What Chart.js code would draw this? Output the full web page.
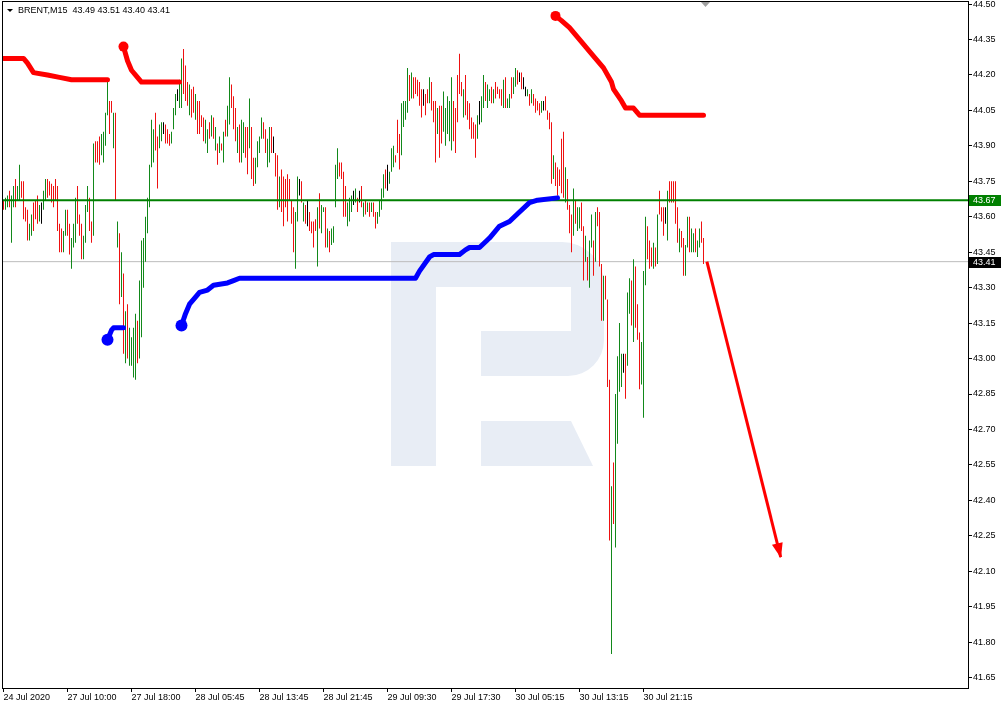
<!DOCTYPE html>
<html>
<head>
<meta charset="utf-8">
<style>
  html, body { margin: 0; padding: 0; background: #fff; }
  canvas { display: block; }
</style>
<script src="https://cdn.jsdelivr.net/npm/chart.js@4.4.1/dist/chart.umd.min.js"></script>
</head>
<body>
<canvas id="chart" width="1007" height="708"></canvas>
<script>
// BRENT M15, one entry per bar, oldest first
const symbol = 'BRENT,M15';
const lastQuote = [43.49, 43.51, 43.40, 43.41];

const highs = [
  43.67,43.68,43.69,43.71,43.69,43.73,43.76,43.73,43.82,43.75,
  43.75,43.64,43.63,43.57,43.61,43.66,43.67,43.69,43.65,43.66,
  43.71,43.76,43.76,43.75,43.74,43.73,43.76,43.73,43.57,43.55,
  43.54,43.63,43.63,43.57,43.51,43.57,43.68,43.73,43.61,43.57,
  43.52,43.65,43.73,43.68,43.58,43.91,43.92,43.92,43.94,43.95,
  43.96,44.04,44.17,44.09,44.09,44.04,44.04,43.58,43.53,43.45,
  43.36,43.20,43.23,43.13,43.09,43.13,43.19,43.16,43.33,43.50,
  43.51,43.60,43.68,43.82,44.01,43.97,44.04,43.94,43.99,44.00,
  44.00,43.99,43.97,43.95,43.96,44.06,44.12,44.14,44.18,44.27,
  44.31,44.24,44.17,44.16,44.14,44.15,44.12,44.09,44.09,44.03,
  44.02,44.01,43.97,44.00,44.03,44.02,43.98,43.91,43.94,43.91,
  43.96,44.01,44.07,44.19,44.16,44.11,44.06,43.98,43.99,44.01,
  44.00,43.98,43.98,44.10,43.98,43.85,43.85,43.92,43.94,44.02,
  44.00,43.97,43.93,43.98,43.98,43.94,43.87,43.86,43.77,43.80,
  43.77,43.76,43.78,43.76,43.67,43.64,43.62,43.77,43.76,43.75,
  43.66,43.65,43.67,43.62,43.58,43.58,43.59,43.64,43.70,43.65,
  43.64,43.64,43.55,43.54,43.55,43.56,43.82,43.89,43.83,43.83,
  43.79,43.73,43.66,43.68,43.69,43.71,43.72,43.68,43.71,43.73,
  43.66,43.67,43.66,43.66,43.66,43.66,43.62,43.62,43.67,43.72,
  43.78,43.80,43.82,43.79,43.89,43.90,43.86,44.01,43.95,44.08,
  44.09,44.09,44.23,44.20,44.21,44.19,44.19,44.18,44.17,44.14,
  44.14,44.12,44.14,44.19,44.17,44.09,44.09,44.06,44.07,44.07,
  44.13,44.06,44.11,44.09,44.19,44.09,44.06,44.20,44.29,44.17,
  44.14,44.20,44.09,44.08,44.02,44.00,43.99,44.03,44.09,44.11,
  44.20,44.17,44.16,44.14,44.15,44.14,44.17,44.15,44.14,44.14,
  44.18,44.19,44.10,44.12,44.19,44.19,44.23,44.22,44.21,44.21,
  44.19,44.15,44.14,44.12,44.14,44.12,44.10,44.09,44.08,44.09,
  44.09,44.11,44.05,44.04,44.00,43.86,43.83,43.81,43.80,43.93,
  43.96,43.81,43.76,43.65,43.61,43.72,43.67,43.64,43.64,43.66,
  43.56,43.52,43.43,43.50,43.61,43.50,43.62,43.64,43.62,43.40,
  43.35,43.35,43.25,42.91,42.46,42.56,42.85,43.01,43.15,43.02,
  43.02,43.02,43.28,43.34,43.33,43.42,43.39,43.23,43.11,43.07,
  43.37,43.60,43.56,43.50,43.47,43.49,43.47,43.61,43.71,43.64,
  43.64,43.64,43.71,43.75,43.75,43.75,43.75,43.64,43.55,43.54,
  43.51,43.48,43.60,43.60,43.55,43.53,43.55,43.50,43.55,43.58,43.51
];

const lows = [
  43.63,43.63,43.64,43.64,43.49,43.64,43.64,43.67,43.67,43.68,
  43.59,43.58,43.50,43.50,43.52,43.54,43.59,43.57,43.58,43.57,
  43.63,43.67,43.68,43.69,43.66,43.64,43.67,43.54,43.45,43.45,
  43.45,43.52,43.52,43.44,43.38,43.47,43.49,43.57,43.52,43.42,
  43.42,43.49,43.62,43.54,43.49,43.52,43.83,43.83,43.82,43.86,
  43.83,43.90,44.03,43.95,44.04,43.89,43.67,43.47,43.23,43.26,
  43.02,42.98,43.00,42.97,42.97,42.92,42.91,42.98,43.00,43.09,
  43.30,43.41,43.53,43.64,43.81,43.83,43.88,43.72,43.89,43.92,
  43.95,43.91,43.91,43.90,43.91,43.97,44.03,44.09,44.06,44.06,
  44.12,44.09,44.07,44.03,44.02,44.04,44.01,43.95,43.95,43.98,
  43.92,43.91,43.87,43.93,43.94,43.93,43.88,43.82,43.87,43.88,
  43.83,43.94,43.94,43.99,44.06,43.97,43.92,43.87,43.83,43.83,
  43.87,43.85,43.78,43.89,43.76,43.73,43.74,43.81,43.87,43.93,
  43.93,43.87,43.81,43.83,43.87,43.87,43.77,43.63,43.64,43.62,
  43.56,43.64,43.58,43.67,43.57,43.45,43.38,43.58,43.69,43.66,
  43.58,43.57,43.56,43.54,43.53,43.47,43.54,43.39,43.55,43.53,
  43.62,43.47,43.47,43.45,43.48,43.49,43.64,43.76,43.77,43.76,
  43.60,43.60,43.56,43.58,43.62,43.65,43.66,43.62,43.66,43.64,
  43.60,43.61,43.62,43.60,43.62,43.60,43.55,43.57,43.60,43.63,
  43.68,43.72,43.71,43.74,43.79,43.81,43.83,43.87,43.80,43.86,
  43.98,44.01,44.04,44.09,44.10,44.10,44.12,44.11,44.07,44.02,
  44.07,44.03,44.08,44.08,44.05,44.00,43.83,43.95,43.85,43.91,
  43.96,43.90,43.95,43.92,43.88,43.92,43.87,44.00,44.12,44.11,
  44.02,44.03,44.01,43.97,43.93,43.93,43.85,43.93,43.99,44.00,
  44.06,44.09,44.06,44.09,44.08,44.08,44.10,44.12,44.10,44.07,
  44.06,44.06,44.06,44.06,44.10,44.12,44.15,44.16,44.17,44.14,
  44.14,44.11,44.11,44.07,44.08,44.07,44.04,44.05,44.03,44.04,
  44.05,44.05,44.01,43.97,43.74,43.76,43.73,43.69,43.73,43.70,
  43.68,43.66,43.63,43.53,43.45,43.52,43.57,43.54,43.55,43.54,
  43.33,43.41,43.33,43.30,43.47,43.35,43.41,43.56,43.39,43.16,
  43.16,43.25,42.88,42.23,41.75,42.30,42.20,42.64,42.86,42.88,
  42.94,42.83,42.97,43.19,43.14,43.07,43.13,43.08,42.87,42.89,
  42.75,43.31,43.42,43.38,43.39,43.38,43.39,43.40,43.61,43.58,
  43.52,43.57,43.50,43.66,43.66,43.66,43.57,43.49,43.45,43.47,
  43.35,43.35,43.47,43.45,43.45,43.45,43.45,43.43,43.47,43.49,43.40
];

// g = closed up, r = closed down, k = unchanged
const barDirs = (
  'rggrggrggr rrrggrrrgk ggrrrrrrrr ggrrgggrrr gggrrgrrrg ' +
  'gggrrgrgrg rgrggggrgg ggggggrrgg krrrgggkgg rrrgrrgrrr ' +
  'rggrgrgrgr grggrrrgrg grrgrrgggg rrggrkrrgr rrrrrrggkr ' +
  'grkrrrrgrg grgrggggrr rrgggkgrkr grgrgrrggg grkgggrrrg ' +
  'gggrgrrrrr krrgrrrgrr gggggrrrrr grrrrrrgkg grggrgrrrr ' +
  'grggrggrkr kkgrgrrrrg krrrrgrrrr rgrrrgrggr rgrggrgrrr ' +
  'grrrgrgggg krggrgrrrg ggrrrgrgrr rkgrrrrrgr rggrggrggrr'
).replace(/ /g, '');

// indicator lines, [bar, price]
const upperStopA = [[0, 44.27], [10, 44.27], [12, 44.25], [15, 44.21], [22, 44.20], [28, 44.19], [34, 44.18], [52, 44.18]];
const upperStopB = [[60, 44.32], [62, 44.26], [64, 44.22], [67, 44.19], [69, 44.17], [88, 44.17]];
const upperStopC = [[276, 44.45], [279, 44.43], [283, 44.40], [287, 44.36], [291, 44.32], [295, 44.28], [300, 44.23],
  [304, 44.17], [305, 44.14], [309, 44.09], [311, 44.06], [315, 44.06], [318, 44.03], [350, 44.03]];
const lowerStopA = [[52, 43.08], [54, 43.12], [55, 43.13], [60, 43.13]];
const lowerStopB = [[89, 43.14], [91, 43.19], [93, 43.23], [96, 43.26], [98, 43.28], [102, 43.29], [105, 43.31],
  [112, 43.32], [115, 43.33], [118, 43.34], [206, 43.34], [208, 43.37], [213, 43.43], [215, 43.44], [228, 43.44],
  [231, 43.46], [233, 43.47], [238, 43.47], [243, 43.51], [248, 43.56], [253, 43.58], [258, 43.62], [263, 43.66],
  [267, 43.67], [277, 43.68]];

const levelPrice = 43.67;
const bidPrice = 43.41;
const arrowBars = [351.7, 388.6];
const arrowPrices = [43.41, 42.16];

const xTickBars = [0, 32, 64, 96, 128, 160, 192, 224, 256, 288, 320];
const xTickLabels = ['24 Jul 2020', '27 Jul 10:00', '27 Jul 18:00', '28 Jul 05:45', '28 Jul 13:45', '28 Jul 21:45',
  '29 Jul 09:30', '29 Jul 17:30', '30 Jul 05:15', '30 Jul 13:15', '30 Jul 21:15'];
const yTickValues = [44.50, 44.35, 44.20, 44.05, 43.90, 43.75, 43.60, 43.45, 43.30, 43.15, 43.00,
  42.85, 42.70, 42.55, 42.40, 42.25, 42.10, 41.95, 41.80, 41.65];

const UP = '#12881a', DOWN = '#ee1111', FLAT = '#000000';
const FAMILY = '"Liberation Sans", Arial, sans-serif';
// tiny line height keeps the tick labels from adding layout padding
const tickFont = { family: FAMILY, size: 9, lineHeight: 0.01 };
const pairs = seg => seg.map(([x, y]) => ({ x, y }));

const stopLine = (seg, color, dot, order) => ({
  type: 'line',
  data: pairs(seg),
  borderColor: color,
  backgroundColor: color,
  borderWidth: 5,
  borderCapStyle: 'round',
  borderJoinStyle: 'round',
  tension: 0,
  pointRadius: c => (c.dataIndex === 0 ? dot : 0),
  pointBorderWidth: 0,
  pointBackgroundColor: color,
  order
});

const hline = (v, color, width, order) => ({
  type: 'line',
  data: [{ x: -0.75, y: v }, { x: 482.25, y: v }],
  borderColor: color,
  borderWidth: width,
  pointRadius: 0,
  order
});

const datasets = [
  hline(bidPrice, '#bcbcbc', 1, 9),
  {
    type: 'bar',
    data: highs.map((h, i) => ({ x: i, y: [lows[i], h] })),
    backgroundColor: highs.map((h, i) => barDirs[i] === 'g' ? UP : barDirs[i] === 'r' ? DOWN : FLAT),
    barThickness: 1,
    inflateAmount: 0,
    borderWidth: 0,
    grouped: false,
    order: 8
  },
  hline(levelPrice, '#008000', 2, 7),
  stopLine(lowerStopA, '#0000ff', 6, 6),
  stopLine(lowerStopB, '#0000ff', 6, 5),
  stopLine(upperStopA, '#ff0000', 0, 4),
  stopLine(upperStopB, '#ff0000', 5, 3),
  stopLine(upperStopC, '#ff0000', 5, 2),
  {
    type: 'line',
    data: arrowBars.map((x, i) => ({ x, y: arrowPrices[i] })),
    borderColor: '#ff0000',
    borderWidth: 3,
    pointRadius: 0,
    order: 1
  }
];
const ARROW = datasets.length - 1;

const decor = {
  id: 'decor',
  beforeDatasetsDraw(chart) {
    const { ctx, chartArea: a } = chart;
    ctx.save();
    ctx.beginPath();
    ctx.rect(a.left, a.top, a.right - a.left, a.bottom - a.top);
    ctx.clip();
    // faint logo in the background
    ctx.fillStyle = '#e8edf5';
    ctx.fillRect(391, 242, 45, 224);
    ctx.beginPath();
    ctx.moveTo(436, 242);
    ctx.lineTo(560, 242);
    ctx.arcTo(604, 242, 604, 286, 42);
    ctx.lineTo(604, 340);
    ctx.arcTo(604, 376, 568, 376, 36);
    ctx.lineTo(481, 376);
    ctx.lineTo(481, 331);
    ctx.lineTo(571, 331);
    ctx.lineTo(571, 287);
    ctx.lineTo(436, 287);
    ctx.closePath();
    ctx.fill();
    ctx.beginPath();
    ctx.moveTo(481, 421);
    ctx.lineTo(571, 421);
    ctx.lineTo(593, 466);
    ctx.lineTo(481, 466);
    ctx.closePath();
    ctx.fill();
    ctx.restore();
  },
  afterDraw(chart) {
    const { ctx, chartArea: a, scales: { x, y } } = chart;
    ctx.save();

    // arrow head
    const pts = chart.getDatasetMeta(ARROW).data;
    const p0 = pts[0], p1 = pts[1];
    ctx.save();
    ctx.translate(p1.x, p1.y);
    ctx.rotate(Math.atan2(p1.y - p0.y, p1.x - p0.x));
    ctx.fillStyle = '#ff0000';
    ctx.beginPath();
    ctx.moveTo(1, 0);
    ctx.lineTo(-14, -5.5);
    ctx.lineTo(-14, 5.5);
    ctx.closePath();
    ctx.fill();
    ctx.restore();

    // frame
    ctx.strokeStyle = '#000';
    ctx.lineWidth = 1;
    ctx.strokeRect(a.left + 0.5, a.top + 0.5, a.right - a.left, a.bottom - a.top);

    // shift marker
    const sx = x.getPixelForValue(highs.length);
    ctx.fillStyle = '#a0a0a0';
    ctx.beginPath();
    ctx.moveTo(sx - 4.5, a.top + 1);
    ctx.lineTo(sx + 4.5, a.top + 1);
    ctx.lineTo(sx, a.top + 6);
    ctx.closePath();
    ctx.fill();

    // title
    ctx.fillStyle = '#000';
    ctx.beginPath();
    ctx.moveTo(7, 9);
    ctx.lineTo(13, 9);
    ctx.lineTo(10, 12);
    ctx.closePath();
    ctx.fill();
    ctx.font = '9px ' + FAMILY;
    ctx.textBaseline = 'alphabetic';
    ctx.fillText(symbol + '  ' + lastQuote.map(v => v.toFixed(2)).join(' '), 18, 12.5);

    // price tags on the axis
    for (const [v, c] of [[levelPrice, '#008000'], [bidPrice, '#000000']]) {
      const py = Math.round(y.getPixelForValue(v));
      ctx.fillStyle = c;
      ctx.fillRect(a.right + 1, py - 5, 32, 11);
      ctx.fillStyle = '#fff';
      ctx.textBaseline = 'middle';
      ctx.fillText(v.toFixed(2), a.right + 5, py + 0.5);
    }
    ctx.restore();
  }
};

new Chart(document.getElementById('chart'), {
  data: { datasets },
  plugins: [decor],
  options: {
    responsive: false,
    animation: false,
    devicePixelRatio: 1,
    layout: { autoPadding: false, padding: { left: 2, top: 1, right: 0, bottom: 0 } },
    plugins: { legend: { display: false }, tooltip: { enabled: false }, title: { display: false } },
    scales: {
      x: {
        type: 'linear',
        min: -0.75,
        max: 482.25,
        offset: false,
        grid: { drawOnChartArea: false, drawTicks: true, tickLength: 4, color: '#000', offset: false },
        border: { display: false },
        ticks: {
          autoSkip: false, maxRotation: 0, align: 'start', padding: 5, color: '#000', font: tickFont,
          callback: (v, i) => xTickLabels[i]
        },
        afterBuildTicks: s => { s.ticks = xTickBars.map(value => ({ value })); },
        afterFit: s => { s.height = 20; s.paddingLeft = 0; s.paddingRight = 0; }
      },
      y: {
        type: 'linear',
        position: 'right',
        min: 41.606,
        max: 44.513,
        grid: { drawOnChartArea: false, drawTicks: true, tickLength: 4, color: '#000' },
        border: { display: false },
        ticks: { padding: 1, color: '#000', font: tickFont, callback: v => v.toFixed(2) },
        afterBuildTicks: s => { s.ticks = yTickValues.map(value => ({ value })); },
        afterFit: s => { s.width = 39; s.paddingTop = 0; s.paddingBottom = 0; }
      }
    }
  }
});
</script>
</body>
</html>
